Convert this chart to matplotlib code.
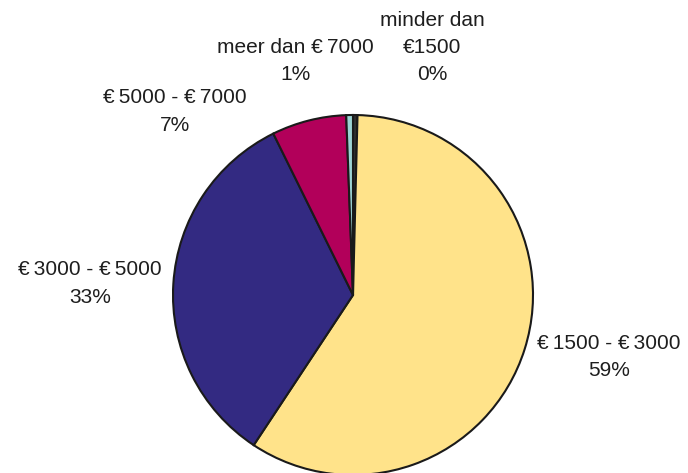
import numpy as np
import matplotlib
matplotlib.use("Agg")
import matplotlib.pyplot as plt

plt.rcParams['font.family'] = ['Liberation Sans', 'DejaVu Sans']

# slices, clockwise from 12 o'clock
labels = ['minder dan\n€1500', '€\u20091500 - €\u20093000', '€\u20093000 - €\u20095000',
          '€\u20095000 - €\u20097000', 'meer dan €\u20097000']
values = [0.4, 58.9, 33.4, 6.7, 0.6]
pct_labels = ['0%', '59%', '33%', '7%', '1%']
colors = ['#2e2e2e', '#ffe38a', '#332a82', '#b2005a', '#9cd4d4']

# label block centres (data units, pie radius = 1)
label_pos = [(0.44, 1.375), (1.42, -0.345), (-1.46, 0.065), (-0.99, 1.02), (-0.32, 1.30)]

W, H, dpi = 688, 473, 100
fig = plt.figure(figsize=(W / dpi, H / dpi), dpi=dpi)
ax = fig.add_axes([0, 0, 1, 1])

ax.pie(values, colors=colors, startangle=90, counterclock=False, radius=1.0,
       wedgeprops=dict(edgecolor='#1a1a1a', linewidth=1.5))

for lab, pct, (x, y) in zip(labels, pct_labels, label_pos):
    ax.text(x, y, lab + '\n' + pct, ha='center', va='center', fontsize=15,
            color='#1e1e1e', linespacing=1.56)

# centre at (353, 295) px, radius 180 px
r = 180.0
cx, cy = 353, H - 295
ax.set_xlim(-cx / r, (W - cx) / r)
ax.set_ylim(-cy / r, (H - cy) / r)
ax.set_aspect('auto')
ax.axis('off')

fig.savefig('out.png', dpi=dpi)
